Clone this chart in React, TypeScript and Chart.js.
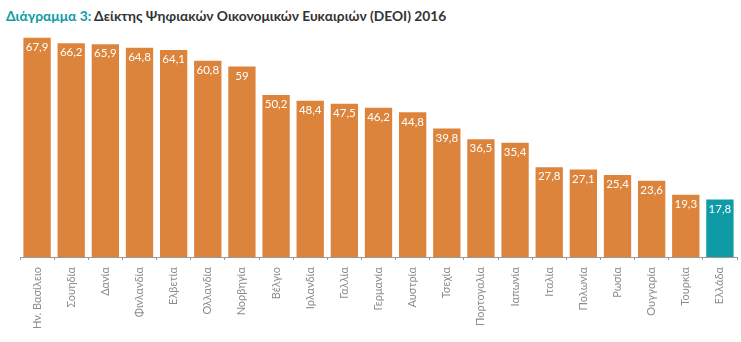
import React, { useEffect, useRef } from "react";
import { Chart, registerables } from "chart.js";

Chart.register(...registerables);

const categories = [
  "Ην. Βασίλειο", "Σουηδία", "Δανία", "Φινλανδία", "Ελβετία", "Ολλανδία", "Νορβηγία",
  "Βέλγιο", "Ιρλανδία", "Γαλλία", "Γερμανία", "Αυστρία", "Τσεχία", "Πορτογαλία",
  "Ιαπωνία", "Ιταλία", "Πολωνία", "Ρωσία", "Ουγγαρία", "Τουρκία", "Ελλάδα",
];
const values = [
  67.9, 66.2, 65.9, 64.8, 64.1, 60.8, 59, 50.2, 48.4, 47.5, 46.2, 44.8, 39.8, 36.5,
  35.4, 27.8, 27.1, 25.4, 23.6, 19.3, 17.8,
];
const highlight = "Ελλάδα";

const ORANGE = "#DC843C";
const TEAL = "#0E9BA6";

const valueLabels = {
  id: "valueLabels",
  afterDatasetsDraw(chart: any) {
    const ctx = chart.ctx;
    const meta = chart.getDatasetMeta(0);
    ctx.save();
    ctx.fillStyle = "#ffffff";
    ctx.font = "11.5px Lato";
    ctx.textAlign = "center";
    ctx.textBaseline = "middle";
    meta.data.forEach((bar: any, i: number) => {
      const v = values[i];
      const s = String(v).replace(".", ",");
      ctx.fillText(s, bar.x, bar.y + 9.5);
    });
    ctx.restore();
  },
};

export default function App() {
  const ref = useRef<HTMLCanvasElement>(null);
  useEffect(() => {
    if (!ref.current) return;
    const chart = new Chart(ref.current, {
      type: "bar",
      data: {
        labels: categories,
        datasets: [
          {
            data: values,
            backgroundColor: categories.map((c) => (c === highlight ? TEAL : ORANGE)),
            barPercentage: 0.8,
            categoryPercentage: 1,
          },
        ],
      },
      options: {
        animation: false,
        responsive: false,
        maintainAspectRatio: false,
        layout: { padding: { left: 20, right: 4, top: 31, bottom: 0 } },
        plugins: { legend: { display: false }, tooltip: { enabled: false }, title: { display: false } },
        scales: {
          y: { display: false, min: 0, max: 70 },
          x: {
            afterFit: (scale: any) => {
              scale.height = 85;
            },
            border: { display: true, color: "#9a9a9a", width: 1 },
            grid: { display: true, drawOnChartArea: false, drawTicks: true, tickLength: 3, color: "#9a9a9a", offset: true },
            ticks: {
              autoSkip: false,
              minRotation: 90,
              maxRotation: 90,
              color: "#8c8c8c",
              font: { family: "Lato", size: 11 },
              padding: 7,
            },
          },
        },
      },
      plugins: [valueLabels],
    });
    return () => chart.destroy();
  }, []);

  return (
    <div style={{ position: "fixed", left: 0, top: 0, width: 741, height: 342, background: "#fff" }}>
      <div
        style={{
          position: "absolute",
          left: 6,
          top: 8,
          fontFamily: "Lato, sans-serif",
          fontWeight: 700,
          fontSize: 13.8,
          color: "#333333",
          whiteSpace: "nowrap",
          lineHeight: "16px",
        }}
      >
        <span style={{ color: TEAL }}>Διάγραμμα 3:</span> Δείκτης Ψηφιακών Οικονομικών Ευκαιριών (DEOI) 2016
      </div>
      <canvas ref={ref} width={741} height={342} style={{ position: "absolute", left: 0, top: 0 }} />
    </div>
  );
}
